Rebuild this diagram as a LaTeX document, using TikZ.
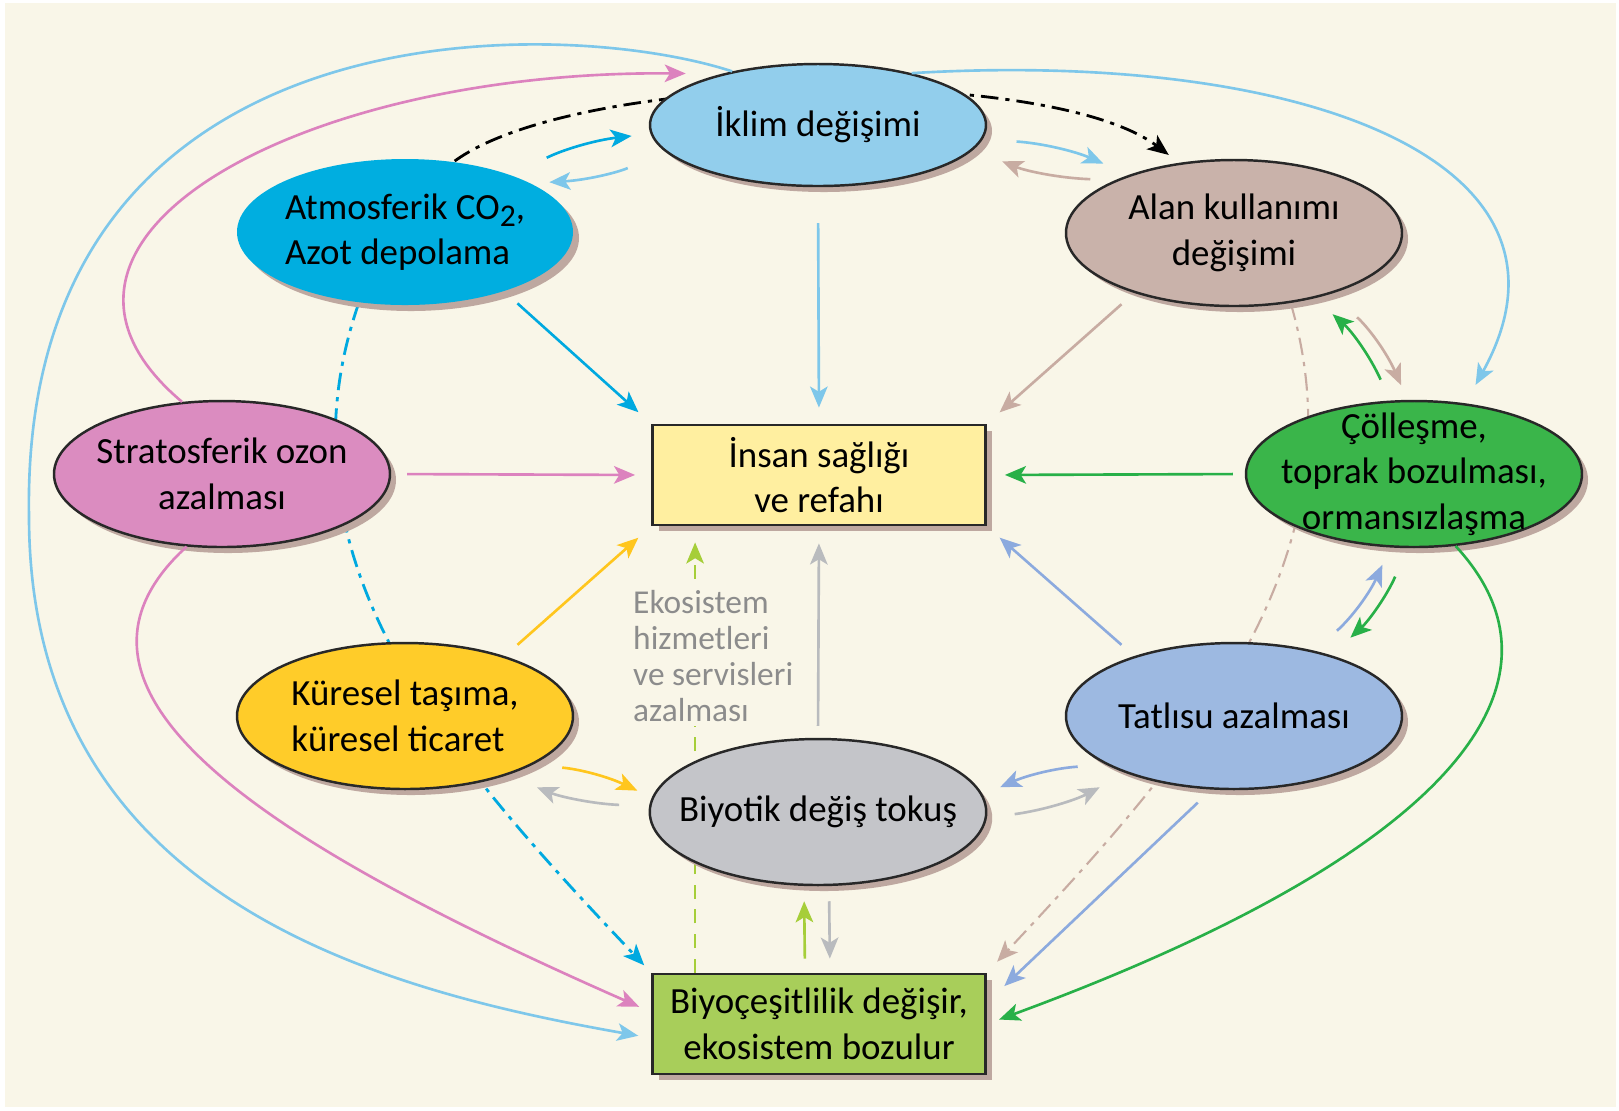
\documentclass[tikz,border=0pt]{standalone}
\usepackage{fontspec}
\setmainfont{Carlito}
\usetikzlibrary{shapes,arrows.meta,shadows,backgrounds}
% node fills
\definecolor{cream}{RGB}{249,246,232}
\definecolor{outline}{RGB}{40,40,40}
\definecolor{shadowc}{RGB}{190,168,160}
\definecolor{iklimc}{RGB}{146,206,236}
\definecolor{atmosc}{RGB}{0,174,224}
\definecolor{alanc}{RGB}{201,178,170}
\definecolor{ozonc}{RGB}{219,140,192}
\definecolor{collesc}{RGB}{58,181,74}
\definecolor{kureselc}{RGB}{255,204,41}
\definecolor{tatlic}{RGB}{157,185,225}
\definecolor{biyotikc}{RGB}{196,197,201}
\definecolor{insanc}{RGB}{255,239,160}
\definecolor{biyoc}{RGB}{168,206,90}
% arrow colours
\definecolor{lblue}{RGB}{126,199,234}
\definecolor{cyanarr}{RGB}{0,169,224}
\definecolor{pinkarr}{RGB}{220,130,190}
\definecolor{goldarr}{RGB}{255,198,30}
\definecolor{grayarr}{RGB}{185,187,190}
\definecolor{periarr}{RGB}{140,170,222}
\definecolor{greenarr}{RGB}{40,176,72}
\definecolor{taupearr}{RGB}{200,172,162}
\definecolor{lgreen}{RGB}{166,206,57}
\definecolor{ekotext}{RGB}{140,140,140}

\begin{document}
\begin{tikzpicture}[% styles for all shapes and arrows
        every node/.style={
            align=center,                       % "\\" breaks the lines
            font=\fontsize{10.5}{13}\selectfont
        },
        oval/.style={ellipse,draw=outline,line width=0.7pt,
            minimum width=3.36cm,minimum height=1.46cm,
            inner sep=-2mm,                     % keeps every ellipse at its minimum size
            drop shadow={shadow xshift=0.6mm,shadow yshift=-0.6mm,fill=shadowc,opacity=1}},
        box/.style={rectangle,draw=outline,line width=0.8pt,
            minimum width=3.33cm,minimum height=1.0cm,
            drop shadow={shadow xshift=0.6mm,shadow yshift=-0.6mm,fill=shadowc,opacity=1}},
        every edge/.style={draw,line width=0.75pt},
        gap/.style 2 args={shorten <=#1,shorten >=#2},
        dashdot/.style={dash pattern=on 5pt off 2pt on 1.2pt off 2pt},
        >={Stealth[length=6pt,width=5pt,inset=1.5pt]}
    ]
    \useasboundingbox (0,0) rectangle (16.19,-11.10);
    \begin{scope}[on background layer]
        \fill[white] (0,0) rectangle (16.19,-11.10);
        \fill[cream] (0.05,-0.03) rectangle (16.16,-11.07);
    \end{scope}

    % causes round the centre
    \node[oval,fill=iklimc,minimum height=1.22cm] (iklim) at (8.18,-1.25) {İklim değişimi};
    \node[oval,fill=atmosc,draw=none,align=left] (atmos) at (4.05,-2.32)
        {Atmosferik CO\raisebox{-0.45ex}{\fontsize{9}{9}\selectfont 2},\\Azot depolama};
    \node[oval,fill=alanc] (alan) at (12.34,-2.33) {Alan kullanımı\\değişimi};
    \node[oval,fill=ozonc] (ozon) at (2.22,-4.74) {Stratosferik ozon\\azalması};
    \node[oval,fill=collesc] (colles) at (14.14,-4.74) {Çölleşme,\\toprak bozulması,\\ormansızlaşma};
    \node[oval,fill=kureselc,align=left] (kuresel) at (4.05,-7.16) {Küresel taşıma,\\küresel ticaret};
    \node[oval,fill=tatlic] (tatli) at (12.34,-7.16) {Tatlısu azalması};
    \node[oval,fill=biyotikc] (biyotik) at (8.18,-8.12) {Biyotik değiş tokuş};
    % the two results
    \node[box,fill=insanc] (insan) at (8.19,-4.75) {İnsan sağlığı\\ve refahı};
    \node[box,fill=biyoc] (biyo) at (8.19,-10.24) {Biyoçeşitlilik değişir,\\ekosistem bozulur};

    % lines that run behind the shapes
    \begin{scope}[on background layer]
        \draw[->,line width=0.8pt,dashdot,black,shorten >=1.3mm]
            (atmos.55) .. controls (5.80,-0.70) and (10.50,-0.65) .. (alan.128);
        \draw[->,line width=0.8pt,dashdot,cyanarr,shorten >=1mm]
            (atmos.-123) .. controls (2.70,-5.60) and (4.50,-7.60) .. (biyo.north west);
        \draw[->,line width=0.6pt,dashdot,taupearr,shorten >=1.5mm]
            (alan.-51) .. controls (13.66,-5.60) and (11.86,-7.60) .. (biyo.north east);
        \draw[->,line width=0.75pt,lgreen,dash pattern=on 4pt off 3pt,shorten >=1.6mm]
            ([xshift=4.4mm]biyo.north west) -- ([xshift=4.4mm]insan.south west);
    \end{scope}
    \node[font=\fontsize{9.5}{10.3}\selectfont,text=ekotext,align=left,fill=cream,
        inner sep=1pt,anchor=west] (eko) at (6.29,-6.56)
        {Ekosistem\\hizmetleri\\ve servisleri\\azalması};

    % arrows into the centre
    \path[->]
        (iklim.south) edge[lblue,gap={3.6mm}{1.6mm}] (insan.north)
        (atmos.-31) edge[cyanarr,gap={1.7mm}{1.7mm}] (insan.north west)
        (ozon.east) edge[pinkarr,gap={1.6mm}{1.6mm}] (insan.west)
        (kuresel.31) edge[goldarr,gap={1.7mm}{1.7mm}] (insan.south west)
        (biyotik.north) edge[grayarr,gap={1.2mm}{1.7mm}] (insan.south)
        (tatli.149) edge[periarr,gap={1.7mm}{1.7mm}] (insan.south east)
        (colles.west) edge[greenarr,gap={1.2mm}{1.8mm}] (insan.east)
        (alan.211) edge[taupearr,gap={1.7mm}{1.7mm}] (insan.north east)
        ;
    % arrows between neighbours
    \path[->]
        (atmos.28) edge[cyanarr,bend left=10,gap={3.8mm}{1.9mm}] (iklim.183)
        (iklim.190) edge[lblue,bend left=10,gap={4.1mm}{1.7mm}] (atmos.21)
        (iklim.-5) edge[lblue,bend left=10,gap={3.4mm}{2.8mm}] (alan.151)
        (alan.156) edge[taupearr,bend left=10,gap={2.5mm}{3.1mm}] (iklim.-9)
        (colles.108) edge[greenarr,bend right=12,gap={2.3mm}{2.4mm}] (alan.-39)
        (alan.-32) edge[taupearr,bend left=12,gap={3.5mm}{1.6mm}] (colles.95)
        (tatli.39) edge[periarr,bend right=12,gap={3.0mm}{1.9mm}] (colles.-108)
        (colles.-95) edge[greenarr,bend left=12,gap={3.1mm}{2.6mm}] (tatli.32)
        (kuresel.-21) edge[goldarr,bend left=10,gap={3.0mm}{1.6mm}] (biyotik.175)
        (biyotik.178) edge[grayarr,bend left=10,gap={3.0mm}{3.2mm}] (kuresel.-30)
        (tatli.201) edge[periarr,bend right=10,gap={2.9mm}{1.9mm}] (biyotik.6)
        (biyotik.-2) edge[grayarr,bend right=10,gap={2.8mm}{3.0mm}] (tatli.208)
        ([xshift=-1.4mm]biyo.north) edge[lgreen,gap={1.4mm}{1.5mm}] ([xshift=-1.4mm]biyotik.south)
        ([xshift=1.1mm]biyotik.south) edge[grayarr,gap={1.5mm}{1.4mm}] ([xshift=1.1mm]biyo.north)
        (tatli.-107) edge[periarr,gap={1.9mm}{2.4mm}] ([yshift=-3mm]biyo.north east)
        ;
    % long curves round the outside
    \draw[->,line width=0.75pt,greenarr,shorten >=1.3mm]
        (colles.-60) .. controls (15.80,-6.80) and (14.60,-8.50) .. (biyo.east);
    \draw[->,line width=0.75pt,pinkarr,shorten >=1.3mm]
        (ozon.-116) .. controls (0.30,-6.90) and (2.60,-8.40) .. ([yshift=1.2mm]biyo.west);
    \draw[->,line width=0.75pt,pinkarr,shorten >=3.6mm]
        (ozon.119) .. controls (-0.10,-2.40) and (3.00,-0.70) .. (iklim.152);
    \draw[->,line width=0.75pt,lblue,shorten >=1.3mm]
        (iklim.148) .. controls (5.60,-0.15) and (0.20,0.00) .. (0.29,-5.16)
        .. controls (0.29,-9.00) and (3.80,-9.90) .. ([yshift=-1.4mm]biyo.west);
    \draw[->,line width=0.75pt,lblue,shorten >=2.1mm]
        (iklim.29) .. controls (13.00,-0.50) and (16.00,-1.60) .. (colles.54.5);
\end{tikzpicture}
\end{document}
